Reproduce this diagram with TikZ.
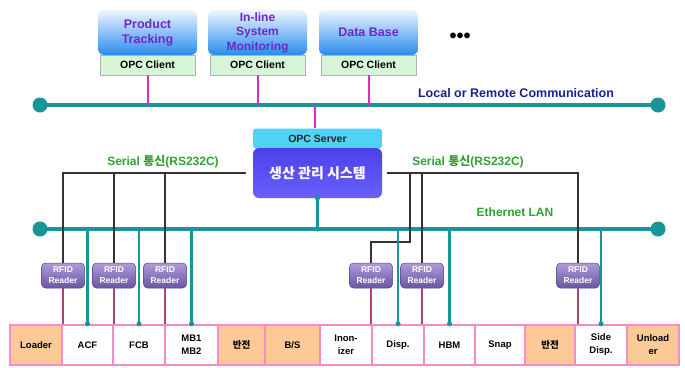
\documentclass[tikz,border=0pt]{standalone}
\usepackage{fontspec}
\setmainfont{Liberation Sans}
\newfontfamily\kr{Noto Sans CJK KR}
\definecolor{teal1}{RGB}{22,150,150}
\definecolor{mag1}{RGB}{228,40,200}
\definecolor{maroon1}{RGB}{165,70,110}
\definecolor{pink1}{RGB}{245,140,200}
\definecolor{orange1}{RGB}{252,202,150}
\definecolor{grn}{RGB}{50,160,50}
\definecolor{blu}{RGB}{30,30,150}
\definecolor{purptxt}{RGB}{110,40,200}
\definecolor{boxtop}{RGB}{238,246,255}
\definecolor{boxbot}{RGB}{40,140,240}
\definecolor{opcgreen}{RGB}{215,245,215}
\definecolor{srvcyan}{RGB}{80,210,245}
\definecolor{maintop}{RGB}{75,65,232}
\definecolor{mainbot}{RGB}{105,95,252}
\definecolor{rfidtop}{RGB}{175,155,215}
\definecolor{rfidbot}{RGB}{105,85,165}
\begin{document}
\begin{tikzpicture}[x=1pt,y=-1pt,
  bus/.style={draw=teal1, line width=4pt},
  drop/.style={draw=teal1, line width=2.4pt},
  serial/.style={draw=black!80, line width=1.1pt},
  rlink/.style={draw=maroon1, line width=1.6pt},
  opclink/.style={draw=mag1, line width=2pt},
  endcirc/.style={circle, fill=teal1, minimum size=15pt, inner sep=0pt},
  jdot/.style={circle, fill=teal1, minimum size=5pt, inner sep=0pt},
  appbox/.style={rectangle, rounded corners=6pt, top color=boxtop, bottom color=boxbot, minimum width=99pt, minimum height=45pt, inner sep=0pt, text=purptxt, font=\bfseries\fontsize{12.5}{15}\selectfont, align=center},
  opcbox/.style={rectangle, fill=opcgreen, draw=gray!60, line width=0.6pt, minimum width=95pt, minimum height=20pt, inner sep=0pt, font=\bfseries\fontsize{10.5}{12}\selectfont},
  rfid/.style={rectangle, rounded corners=4pt, top color=rfidtop, bottom color=rfidbot, draw=rfidbot!80!black, line width=0.5pt, minimum width=43pt, minimum height=25pt, inner sep=0pt, text=white, font=\bfseries\fontsize{8.5}{11}\selectfont, align=center},
  stn/.style={rectangle, draw=pink1, line width=2.5pt, minimum height=40pt, inner sep=0pt, font=\bfseries\fontsize{9.5}{13}\selectfont, align=center},
  krstn/.style={font=\kr\bfseries\fontsize{9.5}{12}\selectfont},
  lbl/.style={font=\bfseries\fontsize{12}{14}\selectfont}
]
\useasboundingbox (0,0) rectangle (685,367);
\fill[white] (0,0) rectangle (685,367);

% buses
\coordinate (la) at (40,105);
\coordinate (lb) at (658,105);
\coordinate (ea) at (40,229);
\coordinate (eb) at (658,229);
\draw[bus] (la) -- (lb);
\draw[bus] (ea) -- (eb);
\node[endcirc] (lca) at (la) {};
\node[endcirc] (lcb) at (lb) {};
\node[endcirc] (eca) at (ea) {};
\node[endcirc] (ecb) at (eb) {};
\node[lbl, text=blu, font=\bfseries\fontsize{12.5}{14}\selectfont] (locl) at (516,93) {Local or Remote Communication};
\node[lbl, text=grn] (ethl) at (515,212) {Ethernet LAN};

% application boxes
\node[appbox] (a1) at (147.5,32.5) {Product\\Tracking};
\node[appbox, font=\bfseries\fontsize{12}{14.5}\selectfont] (a2) at (257.5,32.5) {In-line\\System\\Monitoring};
\node[appbox] (a3) at (368.5,32.5) {Data Base};
\node[opcbox] (o1) at (147.5,65) {OPC Client};
\node[opcbox] (o2) at (257.5,65) {OPC Client};
\node[opcbox] (o3) at (368.5,65) {OPC Client};
\node[font=\bfseries\fontsize{20}{20}\selectfont] (dots) at (460,38) {•••};

\draw[opclink] (o1.south) -- (o1.south |- la);
\draw[opclink] (o2.south) -- (o2.south |- la);
\draw[opclink] (o3.south) -- (o3.south |- la);

% server
\node[rectangle, rounded corners=3pt, fill=srvcyan, minimum width=129pt, minimum height=20pt, inner sep=0pt, font=\bfseries\fontsize{10.5}{12}\selectfont, text=black!85] (srv) at (317.5,138.5) {OPC Server};
\node[rectangle, rounded corners=6pt, top color=maintop, bottom color=mainbot, minimum width=129pt, minimum height=50pt, inner sep=0pt, text=white, font=\kr\bfseries\fontsize{14}{16}\selectfont] (main) at (317.5,173) {생산 관리 시스템};
\coordinate (sl) at (315,105);
\draw[opclink] (sl) -- (sl |- srv.north);
\draw[drop] (main.south) -- (main.south |- ea);
\node[jdot] (mdot) at (main.south) {};
\node[jdot] (mj) at (main.south |- ea) {};

% serial labels
\node[lbl, text=grn] (sll) at (163,162) {Serial {\kr 통신}(RS232C)};
\node[lbl, text=grn] (slr) at (468,162) {Serial {\kr 통신}(RS232C)};

% RFID readers
\node[rfid] (r1) at (63,275.5) {RFID\\Reader};
\node[rfid] (r2) at (114,275.5) {RFID\\Reader};
\node[rfid] (r3) at (165,275.5) {RFID\\Reader};
\node[rfid] (r4) at (371,275.5) {RFID\\Reader};
\node[rfid] (r5) at (422,275.5) {RFID\\Reader};
\node[rfid] (r6) at (578,275.5) {RFID\\Reader};

% serial lines
\coordinate (sL) at (245,173);
\coordinate (sR) at (387,173);
\coordinate (bend4) at (410,242);
\draw[serial] (main.west) ++(-8,0) -- (sL);
\draw[serial] (sL) -| (r1.north);
\draw[serial] (sL) -| (r2.north);
\draw[serial] (sL) -| (r3.north);
\draw[serial] (sR) -| (r6.north);
\draw[serial] (sR) -| (r5.north);
\draw[serial] (sR) -| (bend4) -| (r4.north);

% stations
\node[stn, fill=orange1, minimum width=52pt] (s1) at (36,345) {Loader};
\node[stn, fill=white, minimum width=51pt] (s2) at (87.5,345) {ACF};
\node[stn, fill=white, minimum width=52pt] (s3) at (139,345) {FCB};
\node[stn, fill=white, minimum width=53pt] (s4) at (191.5,345) {MB1\\MB2};
\node[stn, fill=orange1, minimum width=47pt, krstn] (s5) at (241.5,345) {반전};
\node[stn, fill=orange1, minimum width=55pt] (s6) at (292.5,345) {B/S};
\node[stn, fill=white, minimum width=52pt] (s7) at (346,345) {Inon-\\izer};
\node[stn, fill=white, minimum width=52pt] (s8) at (398,345) {Disp.};
\node[stn, fill=white, minimum width=51pt] (s9) at (449.5,345) {HBM};
\node[stn, fill=white, minimum width=50pt] (s10) at (500,345) {Snap};
\node[stn, fill=orange1, minimum width=50pt, krstn] (s11) at (550,345) {반전};
\node[stn, fill=white, minimum width=52pt] (s12) at (601,345) {Side\\Disp.};
\node[stn, fill=orange1, minimum width=52pt] (s13) at (653,345) {Unload\\er};

% reader links
\draw[rlink] (r1.south) -- (r1.south |- s1.north);
\draw[rlink] (r2.south) -- (r2.south |- s2.north);
\draw[rlink] (r3.south) -- (r3.south |- s3.north);
\draw[rlink] (r4.south) -- (r4.south |- s8.north);
\draw[rlink] (r5.south) -- (r5.south |- s9.north);
\draw[rlink] (r6.south) -- (r6.south |- s12.north);

% ethernet drops
\foreach \s in {s2,s3,s4,s8,s9,s12}{
  \draw[drop] (\s.north |- ea) -- (\s.north);
  \node[jdot] at (\s.north) {};
  \node[jdot, minimum size=4pt] at (\s.north |- ea) {};
}
\end{tikzpicture}
\end{document}
